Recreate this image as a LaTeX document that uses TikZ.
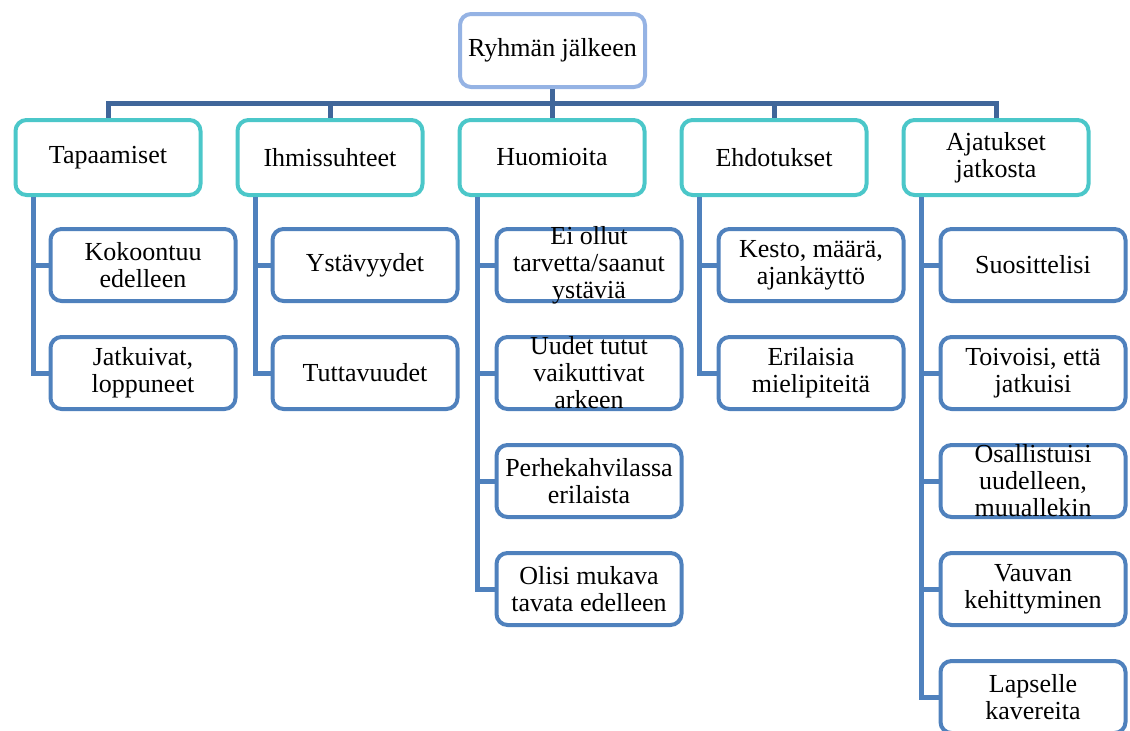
\documentclass[tikz,border=0pt]{standalone}
\usepackage{fontspec}
\setmainfont{Liberation Serif}
\usetikzlibrary{positioning}

\definecolor{rootline}{RGB}{149,179,228}
\definecolor{headline}{RGB}{75,199,201}
\definecolor{leafline}{RGB}{79,129,189}
\definecolor{barline}{RGB}{64,102,154}

\begin{document}
\begin{tikzpicture}[
        x = 1pt, y = -1pt,
        box/.style = {
            draw = #1,
            line width = 4pt,
            rounded corners = 11pt,
            fill = white,
            align = center,
            minimum width = 185pt,
            minimum height = 75pt,
            inner xsep = 2pt,
            inner ysep = 0pt,
            font = \fontsize{26}{27}\selectfont
        },
        box/.default = headline,
        leaf/.style = {
            box = leafline,
            minimum height = 72pt
        },
        link/.style = {
            draw = #1,
            line width = 5pt
        },
        link/.default = leafline,
        node distance = {32pt}
        ]
%
        \useasboundingbox (0,0) rectangle (1130,731);
%
        \node[box=rootline, minimum height=73pt] (root) at (552.5,50.5) {Ryhmän jälkeen};
%
        \node[box] (tap) at (108,157.5) {Tapaamiset};
        \node[box, right=33pt of tap] (ihm) {Ihmissuhteet};
        \node[box, right=33pt of ihm] (huo) {Huomioita};
        \node[box, right=33pt of huo] (ehd) {Ehdotukset};
        \node[box, right=33pt of ehd] (aja) {Ajatukset\\jatkosta};
%
        \node[leaf, anchor=north west] (tap1) at ([shift={(35pt,-30pt)}]tap.south west) {Kokoontuu\\edelleen};
        \node[leaf, below=of tap1] (tap2) {Jatkuivat,\\loppuneet};
%
        \node[leaf, anchor=north west] (ihm1) at ([shift={(35pt,-30pt)}]ihm.south west) {Ystävyydet};
        \node[leaf, below=of ihm1] (ihm2) {Tuttavuudet};
%
        \node[leaf, anchor=north west] (huo1) at ([shift={(37pt,-30pt)}]huo.south west)
            {\parbox[b][0pt][c]{180pt}{\centering Ei ollut\\tarvetta/saanut\\ystäviä}};
        \node[leaf, below=of huo1] (huo2)
            {\parbox[b][0pt][c]{180pt}{\centering Uudet tutut\\vaikuttivat\\arkeen}};
        \node[leaf, below=of huo2] (huo3) {Perhekahvilassa\\erilaista};
        \node[leaf, below=of huo3] (huo4) {Olisi mukava\\tavata edelleen};
%
        \node[leaf, anchor=north west] (ehd1) at ([shift={(37pt,-30pt)}]ehd.south west) {Kesto, määrä,\\ajankäyttö};
        \node[leaf, below=of ehd1] (ehd2) {Erilaisia\\mielipiteitä};
%
        \node[leaf, anchor=north west] (aja1) at ([shift={(37pt,-30pt)}]aja.south west) {Suosittelisi};
        \node[leaf, below=of aja1] (aja2) {Toivoisi, että\\jatkuisi};
        \node[leaf, below=of aja2] (aja3)
            {\parbox[b][0pt][c]{180pt}{\centering Osallistuisi\\uudelleen,\\muuallekin}};
        \node[leaf, below=of aja3] (aja4) {Vauvan\\kehittyminen};
        \node[leaf, below=of aja4] (aja5) {Lapselle\\kavereita};
%
%
        \coordinate[below=14pt of root] (hub);
        \draw[link=barline] (root) -- (hub);
        \draw[link=barline] (hub) -| (tap);
        \draw[link=barline] (hub) -| (ihm);
        \draw[link=barline] (hub) -| (huo);
        \draw[link=barline] (hub) -| (ehd);
        \draw[link=barline] (hub) -| (aja);
%
        \draw[link] ([xshift=20pt]tap.south west) |- (tap1);
        \draw[link] ([xshift=20pt]tap.south west) |- (tap2);
%
        \draw[link] ([xshift=20pt]ihm.south west) |- (ihm1);
        \draw[link] ([xshift=20pt]ihm.south west) |- (ihm2);
%
        \draw[link] ([xshift=20pt]huo.south west) |- (huo1);
        \draw[link] ([xshift=20pt]huo.south west) |- (huo2);
        \draw[link] ([xshift=20pt]huo.south west) |- (huo3);
        \draw[link] ([xshift=20pt]huo.south west) |- (huo4);
%
        \draw[link] ([xshift=20pt]ehd.south west) |- (ehd1);
        \draw[link] ([xshift=20pt]ehd.south west) |- (ehd2);
%
        \draw[link] ([xshift=20pt]aja.south west) |- (aja1);
        \draw[link] ([xshift=20pt]aja.south west) |- (aja2);
        \draw[link] ([xshift=20pt]aja.south west) |- (aja3);
        \draw[link] ([xshift=20pt]aja.south west) |- (aja4);
        \draw[link] ([xshift=20pt]aja.south west) |- (aja5);
%
\end{tikzpicture}
\end{document}
